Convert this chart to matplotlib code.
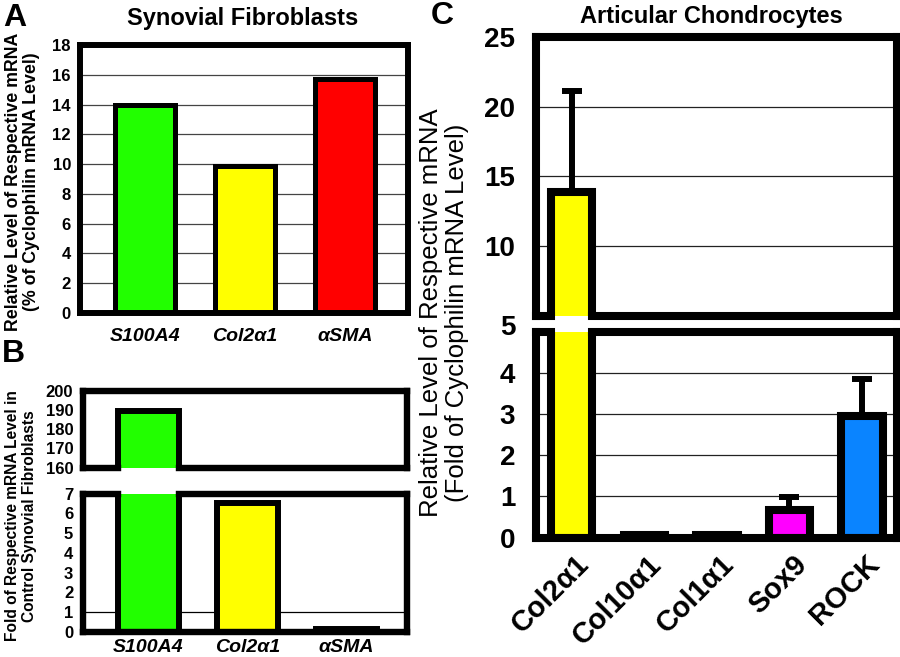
import numpy as np
import matplotlib.pyplot as plt
from matplotlib.transforms import ScaledTranslation

plt.rcParams['font.family'] = ['Liberation Sans', 'DejaVu Sans']

# Panel A - synovial fibroblasts, % of cyclophilin
a_genes = ['S100A4', 'Col2α1', 'αSMA']
a_vals = [14.0, 9.9, 15.75]
a_colors = ['#22ff00', '#ffff00', '#ff0000']

# Panel B - fold vs control synovial fibroblasts
b_genes = ['S100A4', 'Col2α1', 'αSMA']
b_vals = [189.3, 6.5, 0.15]
b_colors = ['#22ff00', '#ffff00', '#ff0000']

# Panel C - articular chondrocytes, fold of cyclophilin
c_genes = ['Col2α1', 'Col10α1', 'Col1α1', 'Sox9', 'ROCK']
c_vals = [13.9, 0.06, 0.06, 0.68, 2.95]
c_err = [7.2, 0.0, 0.0, 0.30, 0.90]
c_colors = ['#ffff00', '#ffff00', '#ffff00', '#ff00ff', '#0a84ff']

W, H = 900, 657
fig = plt.figure(figsize=(9, 6.57), dpi=100)


def box(l, t, r, b):
    # pixel box -> figure fraction
    return [l / W, 1 - b / H, (r - l) / W, (b - t) / H]


def style(ax, lw, gridcolor='#444444'):
    for s in ax.spines.values():
        s.set_linewidth(lw)
    ax.tick_params(length=0)
    ax.set_axisbelow(True)
    ax.grid(axis='y', color=gridcolor, lw=0.9)


def broken_edge(ax, y, x, vals, w, lw, side):
    # draw the spine only where no bar runs through the break
    ax.spines[side].set_visible(False)
    lo, hi = ax.get_xlim()
    pts = [lo]
    for xi, v in zip(x, vals):
        if v > y:
            pts += [xi - w / 2, xi + w / 2]
    pts.append(hi)
    for x0, x1 in zip(pts[::2], pts[1::2]):
        ax.plot([x0, x1], [y, y], color='k', lw=lw, clip_on=False,
                solid_capstyle='projecting', zorder=3)


# ---------- A ----------
xa = np.arange(len(a_genes))
axa = fig.add_axes(box(80, 45, 408, 313))
axa.bar(xa, a_vals, 0.6, color=a_colors, edgecolor='k', lw=3.6)
axa.set_xlim(-0.65, 2.63)
axa.set_ylim(0, 18)
axa.set_yticks(range(0, 19, 2))
axa.set_xticks(xa, a_genes, fontsize=14, fontweight='bold', fontstyle='italic')
axa.tick_params(axis='y', labelsize=12, pad=6.5)
axa.tick_params(axis='x', pad=11)
for t in axa.get_yticklabels():
    t.set_fontweight('bold')
style(axa, 4.3)
axa.yaxis.get_gridlines()[0].set_visible(False)
axa.yaxis.get_gridlines()[-1].set_visible(False)

# ---------- B ----------
xb = np.arange(len(b_genes))
axb1 = fig.add_axes(box(83, 391, 407, 467.5))
axb2 = fig.add_axes(box(83, 493.5, 407, 632))
for ax in (axb1, axb2):
    ax.bar(xb, b_vals, 0.61, color=b_colors, edgecolor='k', lw=4.3)
    ax.set_xlim(-0.66, 2.61)
    style(ax, 4.6)
    ax.grid(False)
axb1.set_ylim(160, 200)
axb1.set_yticks(range(160, 201, 10))
axb1.set_xticks([])
axb2.set_ylim(0, 7)
axb2.set_yticks(range(0, 8))
axb2.axhline(1, color='k', lw=0.9, zorder=0.5)
axb2.set_xticks(xb, b_genes, fontsize=14, fontweight='bold', fontstyle='italic')
axb2.tick_params(axis='x', pad=5)
for ax in (axb1, axb2):
    ax.tick_params(axis='y', labelsize=12, pad=7)
    for t in ax.get_yticklabels():
        t.set_fontweight('bold')
broken_edge(axb1, 160, xb, b_vals, 0.61, 4.6, 'bottom')
broken_edge(axb2, 7, xb, b_vals, 0.61, 4.6, 'top')

# ---------- C ----------
xc = np.arange(len(c_genes))
axc1 = fig.add_axes(box(536, 37, 897, 316))
axc2 = fig.add_axes(box(536, 332, 897, 537.5))
for ax in (axc1, axc2):
    ax.bar(xc, c_vals, 0.57, color=c_colors, edgecolor='k', lw=5.8)
    ax.errorbar(xc, c_vals, yerr=[np.zeros(len(c_err)), c_err], fmt='none',
                ecolor='k', elinewidth=4.3, capsize=7, capthick=4.3, zorder=0.9)
    ax.set_xlim(-0.49, 4.48)
    style(ax, 5.8, gridcolor='#222222')
axc1.set_ylim(5, 25)
axc1.set_yticks([10, 15, 20, 25])
axc1.set_xticks([])
axc2.set_ylim(0, 5)
axc2.set_yticks(range(0, 6))
axc2.yaxis.get_gridlines()[0].set_visible(False)
axc2.yaxis.get_gridlines()[-1].set_visible(False)
axc1.yaxis.get_gridlines()[-1].set_visible(False)
axc2.set_xticks(xc, c_genes, fontsize=21, fontweight='bold', rotation=45,
                ha='right', va='top', rotation_mode='anchor')
axc2.tick_params(axis='x', pad=9)
for t in axc2.get_xticklabels():
    t.set_transform(t.get_transform() + ScaledTranslation(2 / 72, 0, fig.dpi_scale_trans))
for ax in (axc1, axc2):
    ax.tick_params(axis='y', labelsize=20, pad=15)
    for t in ax.get_yticklabels():
        t.set_fontweight('bold')
five = axc2.get_yticklabels()[-1]
five.set_transform(five.get_transform() + ScaledTranslation(0, 5 / 72, fig.dpi_scale_trans))
broken_edge(axc1, 5, xc, c_vals, 0.57, 5.8, 'bottom')
broken_edge(axc2, 5, xc, c_vals, 0.57, 5.8, 'top')

# titles, panel letters, axis labels
fig.text(243 / W, 1 - 18 / H, 'Synovial Fibroblasts', fontsize=17, fontweight='bold',
         ha='center', va='center')
fig.text(711 / W, 1 - 17 / H, 'Articular Chondrocytes', fontsize=17, fontweight='bold',
         ha='center', va='center')
for letter, px, py in [('A', 15, 18), ('B', 13, 354), ('C', 442, 16)]:
    fig.text(px / W, 1 - py / H, letter, fontsize=23, fontweight='bold',
             ha='center', va='center')

fig.text(22.5 / W, 1 - 182 / H,
         'Relative Level of Respective mRNA\n(% of Cyclophilin mRNA Level)',
         fontsize=12.8, fontweight='bold', rotation=90, ha='center', va='center',
         multialignment='center', linespacing=1.15)
fig.text(21 / W, 1 - 516 / H,
         'Fold of Respective mRNA Level in\nControl Synovial Fibroblasts',
         fontsize=11.2, fontweight='bold', rotation=90, ha='center', va='center',
         multialignment='center', linespacing=1.15)
fig.text(444 / W, 1 - 313 / H,
         'Relative Level of Respective mRNA\n(Fold of Cyclophilin mRNA Level)',
         fontsize=18.5, rotation=90, ha='center', va='center',
         multialignment='center', linespacing=1.15)

fig.savefig('out.png', dpi=100)
